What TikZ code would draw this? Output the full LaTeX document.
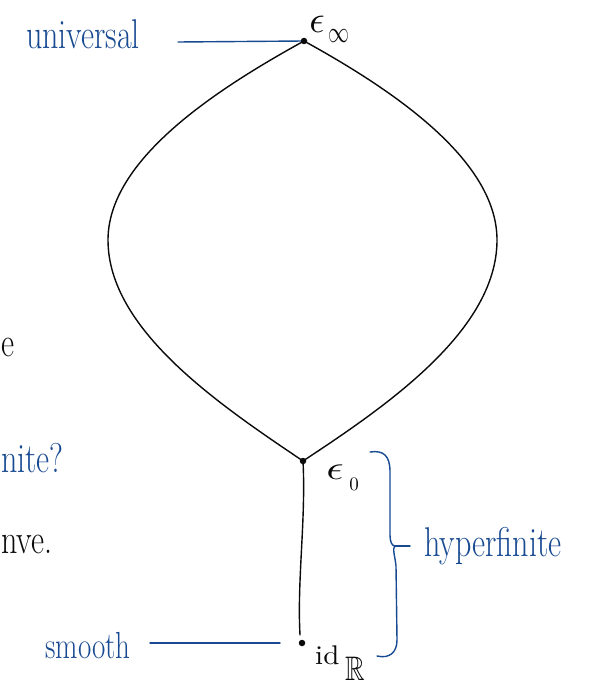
\documentclass[tikz,border=0pt]{standalone}
\usepackage{amssymb}
\definecolor{inkblue}{RGB}{24,74,146}
\definecolor{inkblack}{RGB}{10,10,10}
\begin{document}
\begin{tikzpicture}[x=1pt,y=-1pt,
  dot/.style={circle,fill=inkblack,inner sep=0pt,minimum size=6.5pt},
  curve/.style={draw=inkblack,line width=1.4pt,line cap=round,line join=round},
  blueline/.style={draw=inkblue,line width=1.4pt,line cap=round,line join=round},
  bluetext/.style={text=inkblue,inner sep=0pt,font=\fontsize{32}{34}\selectfont},
  blacktext/.style={text=inkblack,inner sep=0pt,font=\fontsize{32}{34}\selectfont},
  mathlabel/.style={text=inkblack,inner sep=0pt}]
\useasboundingbox (0,0) rectangle (592,682);
\fill[white] (0,0) rectangle (592,682);

% points
\node[dot] (einf) at (304,41) {};
\node[dot] (ezero) at (303,461) {};
\node[dot] (idr) at (302,643) {};
\coordinate (lineend) at (300,635);

% lens
\draw[curve] (einf.center) .. controls (215,90) and (108,160) .. (108,240)
  .. controls (108,330) and (220,405) .. (ezero.center);
\draw[curve] (einf.center) .. controls (393,90) and (497,160) .. (497,240)
  .. controls (497,330) and (388,405) .. (ezero.center);
% stem
\draw[curve] (ezero.center) .. controls (306,520) and (297,580) .. (lineend);

% labels of points
\node[mathlabel] (linf) at (317,24) {\scalebox{3.8}[3.8]{$\epsilon$}};
\node[mathlabel] (linfsub) at (339,36) {\scalebox{2.1}[3]{$\infty$}};
\node[mathlabel] (lzero) at (335,472) {\scalebox{4.3}[3.4]{$\epsilon$}};
\node[mathlabel] (lzerosub) at (354,484) {\scalebox{1.9}{$0$}};
\node[mathlabel,anchor=base west] (lid) at (315,664) {\scalebox{2.9}[2.7]{id}};
\node[mathlabel,anchor=base west] (lR) at (345,680) {\scalebox{2.7}[3.4]{$\mathbb{R}$}};

% universal
\node[bluetext] (univ) at (83,34) {\scalebox{1}[1.3]{universal}};
\coordinate (u1) at (178,42);
\draw[blueline] (u1) -- (einf);

% smooth
\node[bluetext,font=\fontsize{29}{30}\selectfont] (smooth) at (88,646) {\scalebox{1}[1.3]{smooth}};
\coordinate (s1) at (150,643);
\coordinate (s2) at (280,643);
\draw[blueline] (s1) -- (s2);

% brace
\coordinate (btop) at (370,452);
\coordinate (bbot) at (377,656);
\coordinate (btip) at (410,546);
\draw[blueline] (btop) .. controls (384,450) and (390,456) .. (390,472)
  -- (390,535) .. controls (390,542) and (392,546) .. (395,546)
  .. controls (392,548) and (395,556) .. (396,566)
  -- (397,640) .. controls (397,652) and (390,659) .. (bbot);
\draw[blueline] (395,546) -- (btip);
\node[bluetext,anchor=west] (hyper) at (424,546) {\scalebox{1}[1.3]{hyperfinite}};

% fragments at the left edge
\node[blacktext,anchor=base west] (fra) at (1,356) {\scalebox{1}[1.3]{e}};
\node[bluetext,anchor=base west] (frb) at (1,472) {\scalebox{1}[1.3]{nite?}};
\node[blacktext,anchor=base west] (frc) at (1,553) {\scalebox{1}[1.3]{nve.}};
\end{tikzpicture}
\end{document}
